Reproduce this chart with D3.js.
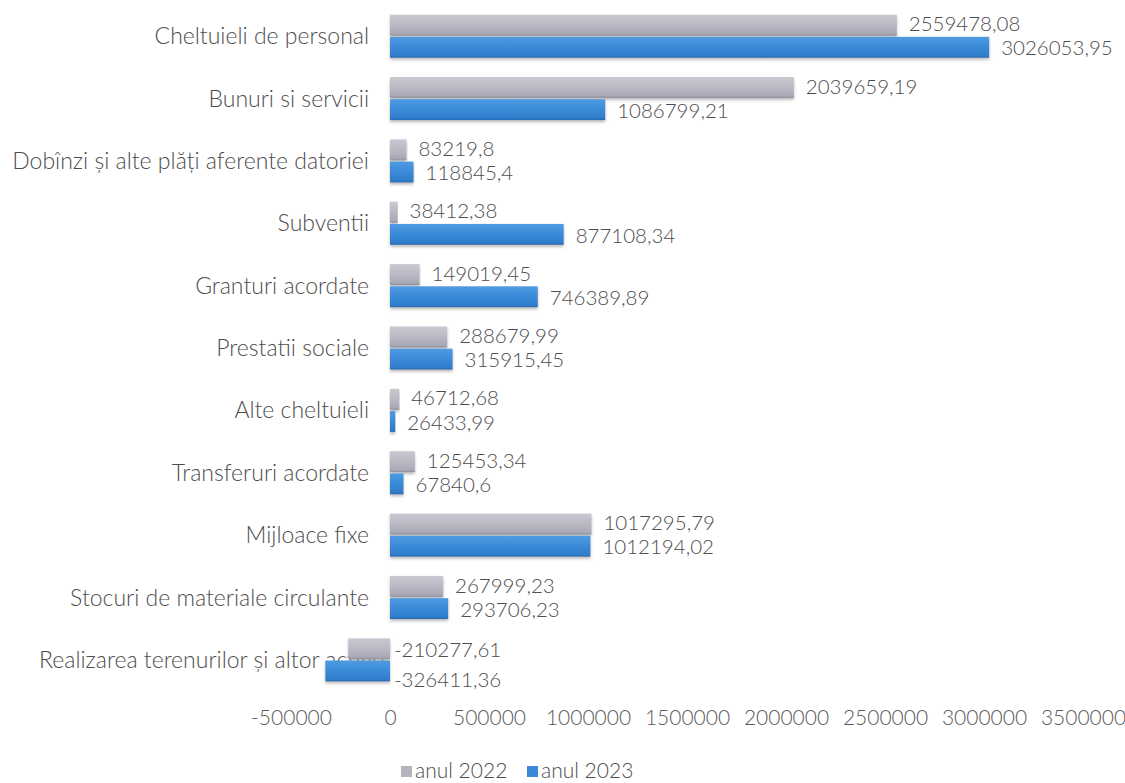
<!DOCTYPE html>
<html>
<head>
<meta charset="utf-8">
<script src="https://cdn.jsdelivr.net/npm/d3@7"></script>
<style>
  html, body { margin: 0; padding: 0; background: #ffffff; }
  svg { display: block; }
  text { font-family: Lato, "Open Sans", sans-serif; font-weight: 300; }
</style>
</head>
<body>
<svg id="chart" width="1125" height="783"></svg>
<script>
const categories = [
  "Cheltuieli de personal",
  "Bunuri si servicii",
  "Dobînzi și alte plăți aferente datoriei",
  "Subventii",
  "Granturi acordate",
  "Prestatii sociale",
  "Alte cheltuieli",
  "Transferuri acordate ",
  "Mijloace fixe",
  "Stocuri de materiale circulante",
  "Realizarea terenurilor și altor active"
];
const values2022 = [2559478.08, 2039659.19, 83219.8, 38412.38, 149019.45, 288679.99, 46712.68, 125453.34, 1017295.79, 267999.23, -210277.61];
const values2023 = [3026053.95, 1086799.21, 118845.4, 877108.34, 746389.89, 315915.45, 26433.99, 67840.6, 1012194.02, 293706.23, -326411.36];
const labels2022 = ["2559478,08", "2039659,19", "83219,8", "38412,38", "149019,45", "288679,99", "46712,68", "125453,34", "1017295,79", "267999,23", "-210277,61"];
const labels2023 = ["3026053,95", "1086799,21", "118845,4", "877108,34", "746389,89", "315915,45", "26433,99", "67840,6", "1012194,02", "293706,23", "-326411,36"];
const tickValues = [-500000, 0, 500000, 1000000, 1500000, 2000000, 2500000, 3000000, 3500000];
const seriesNames = ["anul 2022", "anul 2023"];

const svg = d3.select("#chart");
const defs = svg.append("defs");

function grad(id, stops) {
  const g = defs.append("linearGradient").attr("id", id)
    .attr("x1", 0).attr("y1", 0).attr("x2", 0).attr("y2", 1);
  stops.forEach(s => g.append("stop").attr("offset", s[0]).attr("stop-color", s[1]));
}
grad("g2022", [[0, "#c9c9d2"], [0.5, "#b9b9c4"], [0.9, "#a9a9b6"], [1, "#8e8e9c"]]);
grad("g2023", [[0, "#4f9be2"], [0.5, "#3a8ad8"], [0.9, "#2f7dcc"], [1, "#2468b0"]]);

const f = defs.append("filter").attr("id", "shadow")
  .attr("x", "-5%").attr("y", "-20%").attr("width", "110%").attr("height", "160%");
f.append("feDropShadow").attr("dx", 0).attr("dy", 2).attr("stdDeviation", 1.5)
  .attr("flood-color", "#888888").attr("flood-opacity", 0.6);

const x = d3.scaleLinear().domain([-500000, 3500000]).range([291, 1083]);
const y = d3.scaleBand().domain(categories).range([5, 691]).paddingInner(0.31).paddingOuter(0.155);
const ySub = d3.scaleBand().domain(seriesNames).range([0, y.bandwidth()]).paddingInner(0.06);

const textColor = "#4d4d4d";
const fsCat = 23;
const fsNum = 20.5;

// category labels (drawn first, bars cover overlaps)
svg.append("g").selectAll("text").data(categories).join("text")
  .attr("x", (d, i) => i === categories.length - 1 ? 384 : 369)
  .attr("y", d => y(d) + y.bandwidth() / 2)
  .attr("dy", "0.35em")
  .attr("text-anchor", "end")
  .attr("font-size", fsCat)
  .attr("fill", textColor)
  .text(d => d);

// x axis labels
const xAxis = d3.axisBottom(x).tickValues(tickValues).tickSize(0).tickPadding(0)
  .tickFormat(d => d3.format("d")(d).replace("−", "-"));
const ax = svg.append("g").attr("transform", "translate(0,710)").call(xAxis);
ax.select(".domain").remove();
ax.selectAll("text").attr("font-size", 21).attr("fill", "#5a5a5a")
  .attr("font-family", "Lato, 'Open Sans', sans-serif").attr("font-weight", 300);

const series = [
  { name: seriesNames[0], values: values2022, labels: labels2022, fill: "url(#g2022)" },
  { name: seriesNames[1], values: values2023, labels: labels2023, fill: "url(#g2023)" }
];

series.forEach((s, si) => {
  const g = svg.append("g");
  g.selectAll("rect").data(categories).join("rect")
    .attr("x", (d, i) => x(Math.min(0, s.values[i])))
    .attr("y", d => y(d) + ySub(s.name))
    .attr("width", (d, i) => Math.abs(x(s.values[i]) - x(0)))
    .attr("height", ySub.bandwidth())
    .attr("fill", s.fill)
    .attr("filter", "url(#shadow)");
  g.selectAll("text").data(categories).join("text")
    .attr("x", (d, i) => x(Math.max(0, s.values[i])) + (s.values[i] < 0 ? 4 : 12))
    .attr("y", (d, i) => y(d) + ySub(s.name) + ySub.bandwidth() / 2 +
      (s.values[i] < 0 ? (si === 0 ? 1 : 9) : (si === 0 ? -1 : 1)))
    .attr("dy", "0.35em")
    .attr("font-size", fsNum)
    .attr("fill", textColor)
    .text((d, i) => s.labels[i]);
});

// legend
const legend = svg.append("g").attr("transform", "translate(0,771)");
const legItems = [
  { name: seriesNames[0], color: "#b4b4be", x: 401 },
  { name: seriesNames[1], color: "#3a8ad8", x: 527 }
];
legItems.forEach(it => {
  legend.append("rect").attr("x", it.x).attr("y", -5).attr("width", 11).attr("height", 11).attr("fill", it.color);
  legend.append("text").attr("x", it.x + 14).attr("y", 0).attr("dy", "0.35em")
    .attr("font-size", 21).attr("fill", textColor).text(it.name);
});
</script>
</body>
</html>
